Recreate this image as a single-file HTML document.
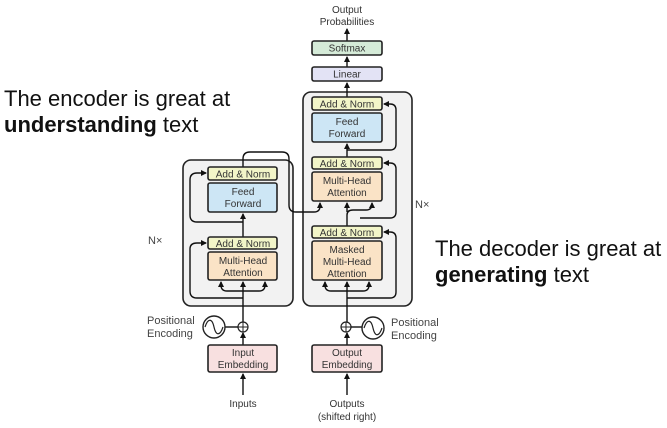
<!DOCTYPE html>
<html><head><meta charset="utf-8"><style>
html,body{margin:0;padding:0;background:#fff;}
svg{display:block;}
.big{font-family:"Liberation Sans",sans-serif;font-size:22px;fill:#111;}
.s{font-family:"Liberation Sans",sans-serif;font-size:10px;fill:#333;text-anchor:middle;}
.l{font-family:"Liberation Sans",sans-serif;font-size:11px;fill:#444;}
.box{stroke:#222;stroke-width:1.6;}
.ln{stroke:#111;stroke-width:1.4;fill:none;}
</style></head><body>
<svg width="667" height="428" viewBox="0 0 667 428" xmlns="http://www.w3.org/2000/svg">
<defs><marker id="a" markerWidth="6" markerHeight="6" refX="5" refY="3" orient="auto" markerUnits="userSpaceOnUse"><path d="M0,0 L6,3 L0,6 z" fill="#111"/></marker></defs>

<text class="big" x="4" y="106">The encoder is great at</text>
<text class="big" x="4" y="132"><tspan font-weight="bold">understanding</tspan> text</text>
<text class="big" x="435" y="256">The decoder is great at</text>
<text class="big" x="435" y="282"><tspan font-weight="bold">generating</tspan> text</text>

<rect x="183" y="160" width="110" height="146" rx="8" fill="#f2f2f2" stroke="#222" stroke-width="1.6"/>
<rect x="303" y="92" width="109" height="214" rx="8" fill="#f2f2f2" stroke="#222" stroke-width="1.6"/>
<text class="l" x="148" y="244">N×</text>
<text class="l" x="415" y="208">N×</text>

<!-- encoder lines -->
<path class="ln" d="M243,395 V374" marker-end="url(#a)"/>
<path class="ln" d="M243,345 V333" marker-end="url(#a)"/>
<path class="ln" d="M243,322 V282" marker-end="url(#a)"/>
<path class="ln" d="M243,298 H197 Q190,298 190,291 V249 Q190,243 197,243 H206" marker-end="url(#a)"/>
<path class="ln" d="M243,291 H227 Q221,291 221,285 V282" marker-end="url(#a)"/>
<path class="ln" d="M243,291 H259 Q265,291 265,285 V282" marker-end="url(#a)"/>
<path class="ln" d="M243,237 V214" marker-end="url(#a)"/>
<path class="ln" d="M243,222 H197 Q190,222 190,215 V180 Q190,173 197,173 H206" marker-end="url(#a)"/>
<path class="ln" d="M243,167 V159 Q243,152 250,152 H282 Q289,152 289,159 V205 Q289,212 296,212 H314 Q320,212 320,206 V203" marker-end="url(#a)"/>

<!-- decoder lines -->
<path class="ln" d="M347,395 V374" marker-end="url(#a)"/>
<path class="ln" d="M347,345 V333" marker-end="url(#a)"/>
<path class="ln" d="M347,322 V282" marker-end="url(#a)"/>
<path class="ln" d="M347,298 H390 Q396,298 396,292 V238 Q396,232 390,232 H384" marker-end="url(#a)"/>
<path class="ln" d="M347,291 H331 Q325,291 325,285 V282" marker-end="url(#a)"/>
<path class="ln" d="M347,291 H363 Q369,291 369,285 V282" marker-end="url(#a)"/>
<path class="ln" d="M347,226 V215 Q347,210 353,210 H366 Q372,210 372,204 V203" marker-end="url(#a)"/>
<path class="ln" d="M347,212 V203" marker-end="url(#a)"/>
<path class="ln" d="M360,218 H390 Q396,218 396,212 V169 Q396,163 390,163 H384" marker-end="url(#a)"/>
<path class="ln" d="M347,157 V144" marker-end="url(#a)"/>
<path class="ln" d="M347,150 H390 Q396,150 396,144 V110 Q396,104 390,104 H384" marker-end="url(#a)"/>
<path class="ln" d="M347,97 V83" marker-end="url(#a)"/>
<path class="ln" d="M347,67 V57" marker-end="url(#a)"/>
<path class="ln" d="M347,41 V29" marker-end="url(#a)"/>

<!-- encoder blocks -->
<rect class="box" x="208" y="167" width="69" height="13" rx="2" fill="#f2f5c8"/>
<text class="s" x="243" y="177.5">Add &amp; Norm</text>
<rect class="box" x="208" y="183" width="69" height="29" rx="2" fill="#cde6f5"/>
<text class="s" x="243" y="195">Feed</text><text class="s" x="243" y="207">Forward</text>
<rect class="box" x="208" y="237" width="69" height="12" rx="2" fill="#f2f5c8"/>
<text class="s" x="243" y="247">Add &amp; Norm</text>
<rect class="box" x="208" y="252" width="69" height="28" rx="2" fill="#fae3c6"/>
<text class="s" x="243" y="264">Multi-Head</text><text class="s" x="243" y="276">Attention</text>
<rect class="box" x="208" y="345" width="69" height="27" rx="2" fill="#f8e0e0"/>
<text class="s" x="243" y="356">Input</text><text class="s" x="243" y="368">Embedding</text>

<!-- decoder blocks -->
<rect class="box" x="312" y="41" width="70" height="14" rx="2" fill="#d5ebd8"/>
<text class="s" x="347" y="51.5">Softmax</text>
<rect class="box" x="312" y="67" width="70" height="14" rx="2" fill="#e3e3f5"/>
<text class="s" x="347" y="77.5">Linear</text>
<rect class="box" x="312" y="97" width="70" height="13" rx="2" fill="#f2f5c8"/>
<text class="s" x="347" y="107.5">Add &amp; Norm</text>
<rect class="box" x="312" y="113" width="70" height="29" rx="2" fill="#cde6f5"/>
<text class="s" x="347" y="125">Feed</text><text class="s" x="347" y="137">Forward</text>
<rect class="box" x="312" y="157" width="70" height="12" rx="2" fill="#f2f5c8"/>
<text class="s" x="347" y="167">Add &amp; Norm</text>
<rect class="box" x="312" y="172" width="70" height="29" rx="2" fill="#fae3c6"/>
<text class="s" x="347" y="184">Multi-Head</text><text class="s" x="347" y="196">Attention</text>
<rect class="box" x="312" y="226" width="70" height="12" rx="2" fill="#f2f5c8"/>
<text class="s" x="347" y="236">Add &amp; Norm</text>
<rect class="box" x="312" y="241" width="70" height="39" rx="2" fill="#fae3c6"/>
<text class="s" x="347" y="253">Masked</text><text class="s" x="347" y="265">Multi-Head</text><text class="s" x="347" y="277">Attention</text>
<rect class="box" x="312" y="345" width="70" height="27" rx="2" fill="#f8e0e0"/>
<text class="s" x="347" y="356">Output</text><text class="s" x="347" y="368">Embedding</text>

<text class="s" x="347" y="13">Output</text>
<text class="s" x="347" y="25">Probabilities</text>

<circle cx="243" cy="327" r="5" fill="#fff" stroke="#222" stroke-width="1.2"/>
<path d="M238,327 H248 M243,322 V332" stroke="#222" stroke-width="1"/>
<path class="ln" d="M225,327 H238"/>
<circle cx="214" cy="327" r="11" fill="#fff" stroke="#222" stroke-width="1.4"/>
<path d="M205,327 C208,318 212,318 214,327 C216,336 220,336 223,327" fill="none" stroke="#222" stroke-width="1.2"/>
<text class="l" x="147" y="324" font-size="10.5">Positional</text>
<text class="l" x="147" y="337" font-size="10.5">Encoding</text>

<circle cx="346" cy="327" r="5" fill="#fff" stroke="#222" stroke-width="1.2"/>
<path d="M341,327 H351 M346,322 V332" stroke="#222" stroke-width="1"/>
<path class="ln" d="M351,327 H362"/>
<circle cx="373" cy="328" r="11" fill="#fff" stroke="#222" stroke-width="1.4"/>
<path d="M364,328 C367,319 371,319 373,328 C375,337 379,337 382,328" fill="none" stroke="#222" stroke-width="1.2"/>
<text class="l" x="391" y="326" font-size="10.5">Positional</text>
<text class="l" x="391" y="339" font-size="10.5">Encoding</text>

<text class="s" x="243" y="407" font-size="10.5">Inputs</text>
<text class="s" x="347" y="407" font-size="10.5">Outputs</text>
<text class="s" x="347" y="420" font-size="10.5">(shifted right)</text>
</svg>
</body></html>
